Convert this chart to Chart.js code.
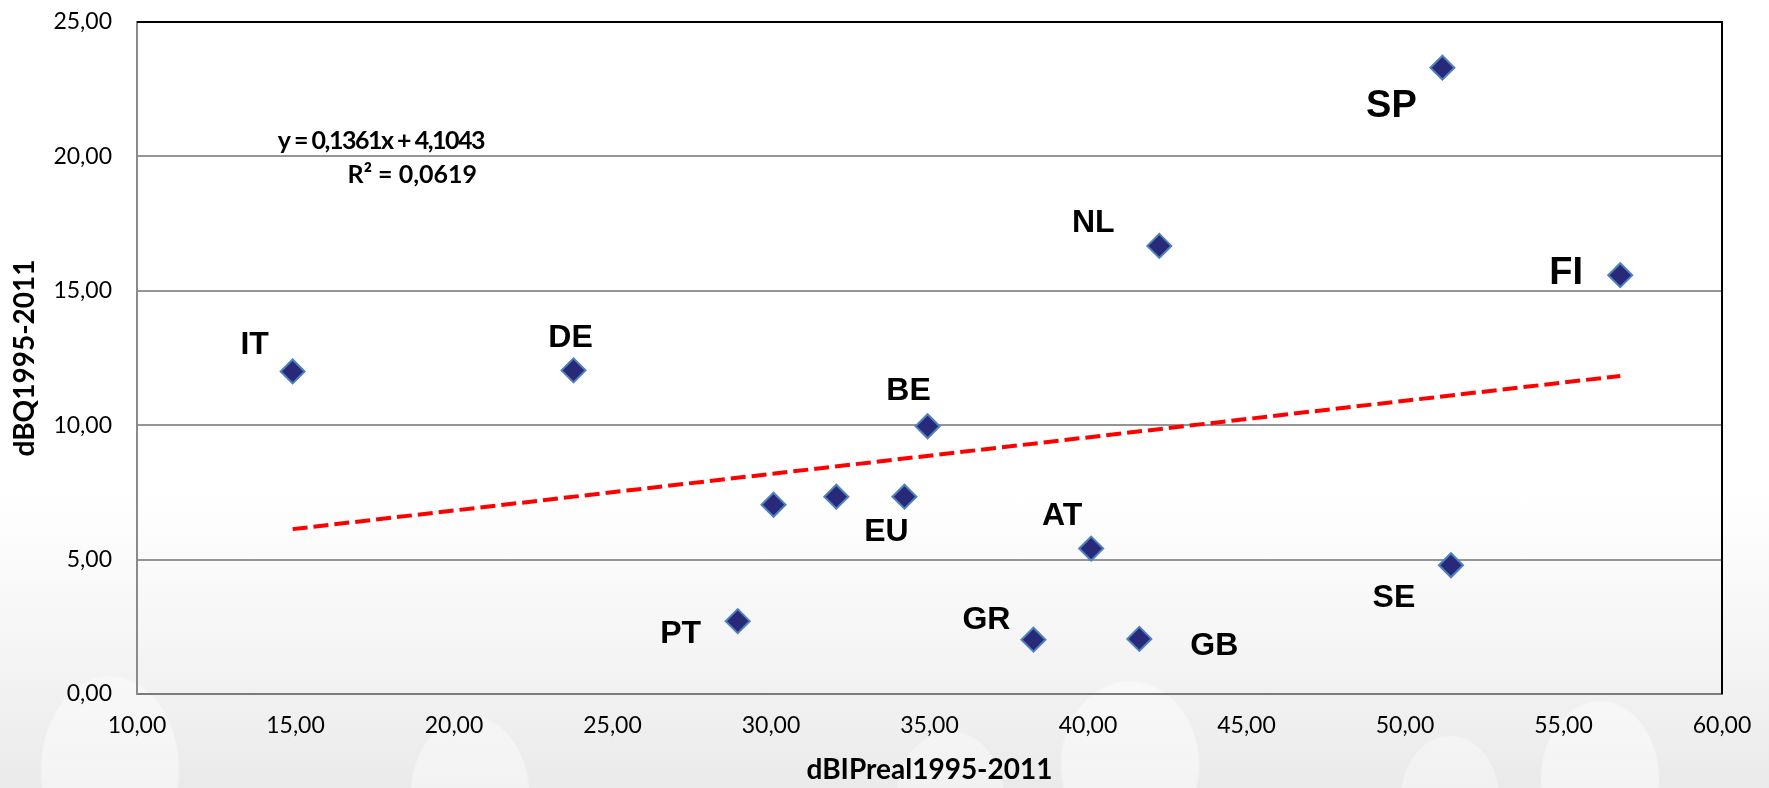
<!DOCTYPE html>
<html>
<head>
<meta charset="utf-8">
<title>dBQ vs dBIPreal 1995-2011</title>
<script src="https://cdn.jsdelivr.net/npm/chart.js@4.4.1/dist/chart.umd.min.js"></script>
<style>
    html, body { margin: 0; padding: 0; }
    body {
        width: 1769px;
        height: 788px;
        overflow: hidden;
        background:
            radial-gradient(ellipse 70px 95px at 110px 770px, rgba(255,255,255,0.45) 97%, rgba(255,255,255,0) 100%),
            radial-gradient(ellipse 60px 80px at 470px 795px, rgba(255,255,255,0.4) 97%, rgba(255,255,255,0) 100%),
            radial-gradient(ellipse 70px 85px at 1130px 765px, rgba(255,255,255,0.45) 97%, rgba(255,255,255,0) 100%),
            radial-gradient(ellipse 55px 70px at 950px 800px, rgba(255,255,255,0.35) 97%, rgba(255,255,255,0) 100%),
            radial-gradient(ellipse 50px 65px at 1450px 800px, rgba(255,255,255,0.35) 97%, rgba(255,255,255,0) 100%),
            radial-gradient(ellipse 60px 80px at 1600px 780px, rgba(255,255,255,0.45) 97%, rgba(255,255,255,0) 100%),
            linear-gradient(to bottom, #ffffff 0%, #ffffff 62%, #f5f5f5 82%, #eaeaea 100%);
    }
    #wrap { position: relative; width: 1769px; height: 788px; }
</style>
</head>
<body>
<div id="wrap"><canvas id="scatterChart"></canvas></div>
<script>
        // data
        const countries = ['IT', 'DE', '', '', 'EU', 'BE', 'PT', 'GR', 'GB', 'AT', 'SE', 'NL', 'SP', 'FI'];
        const dBIPreal = [14.91, 23.77, 30.08, 32.06, 34.21, 34.94, 28.95, 38.28, 41.62, 40.10, 51.45, 42.25, 51.18, 56.79];
        const dBQ = [12.00, 12.04, 7.04, 7.34, 7.34, 9.96, 2.71, 2.02, 2.05, 5.41, 4.79, 16.67, 23.30, 15.58];
        const xTicks = [10, 15, 20, 25, 30, 35, 40, 45, 50, 55, 60];
        const yTicks = [0, 5, 10, 15, 20, 25];
        const trendSlope = 0.1361;
        const trendIntercept = 4.1043;
        const trendText = ['y = 0,1361x + 4,1043', 'R² = 0,0619'];

        // label placement (pixel offset from the marker) and size
        const labelOffsets = [[-38, -26], [-3, -32], [0, 0], [0, 0], [-18, 35], [-19, -35], [-57, 13],
                              [-47, -20], [75, 7], [-29, -32], [-57, 33], [-66, -23], [-51, 39], [-54, -2]];
        const labelSizes = [32, 32, 32, 32, 32, 32, 32, 32, 32, 32, 32, 32, 38, 38];

        const fmt = v => v.toFixed(2).replace('.', ',');

        const points = dBIPreal.map((x, i) => ({ x: x, y: dBQ[i] }));
        const xMin = Math.min(...dBIPreal);
        const xMax = Math.max(...dBIPreal);
        const trendPoints = [
            { x: xMin, y: trendSlope * xMin + trendIntercept },
            { x: xMax, y: trendSlope * xMax + trendIntercept }
        ];

        // frame (top + right black lines), point labels and the trendline equation
        const decorations = {
            id: 'decorations',
            beforeDatasetsDraw(chart) {
                const { ctx, chartArea: a } = chart;
                ctx.save();
                ctx.strokeStyle = '#000000';
                ctx.lineWidth = 2;
                ctx.beginPath();
                ctx.moveTo(a.left, a.top);
                ctx.lineTo(a.right, a.top);
                ctx.lineTo(a.right, a.bottom);
                ctx.stroke();
                ctx.restore();
            },
            afterDatasetsDraw(chart) {
                const { ctx, chartArea: a } = chart;
                const meta = chart.getDatasetMeta(0);
                ctx.save();
                ctx.fillStyle = '#000000';
                ctx.textAlign = 'center';
                ctx.textBaseline = 'middle';
                meta.data.forEach((pt, i) => {
                    if (!countries[i]) return;
                    ctx.font = 'bold ' + labelSizes[i] + 'px "Liberation Sans", Arial, sans-serif';
                    ctx.fillText(countries[i], pt.x + labelOffsets[i][0], pt.y + labelOffsets[i][1]);
                });

                ctx.font = 'bold 25px Lato, "Open Sans", sans-serif';
                ctx.textAlign = 'right';
                ctx.letterSpacing = '-1.5px';
                ctx.fillText(trendText[0], a.left + 347, a.top + 119);
                ctx.letterSpacing = '0px';
                ctx.fillText(trendText[1], a.left + 340, a.top + 153);
                ctx.restore();
            }
        };

        const ctx = document.getElementById('scatterChart').getContext('2d');
        new Chart(ctx, {
            type: 'scatter',
            data: {
                datasets: [
                    {
                        label: 'Länder',
                        data: points,
                        pointStyle: 'rectRot',
                        pointRadius: 12,
                        pointHoverRadius: 12,
                        backgroundColor: '#29297A',
                        borderColor: '#4F81BD',
                        borderWidth: 2,
                        order: 1
                    },
                    {
                        label: 'Trend',
                        data: trendPoints,
                        showLine: true,
                        pointRadius: 0,
                        borderColor: '#FF0000',
                        borderWidth: 4,
                        borderDash: [15, 6],
                        fill: false,
                        order: 2
                    }
                ]
            },
            options: {
                responsive: true,
                maintainAspectRatio: false,
                animation: false,
                layout: { padding: { top: 22, right: 47, left: 0, bottom: 0 } },
                plugins: {
                    legend: { display: false },
                    tooltip: { enabled: false }
                },
                scales: {
                    x: {
                        type: 'linear',
                        min: xTicks[0],
                        max: xTicks[xTicks.length - 1],
                        afterBuildTicks: s => { s.ticks = xTicks.map(v => ({ value: v })); },
                        afterFit: s => { s.height = 94; s.paddingLeft = 0; s.paddingRight = 0; },
                        grid: { display: false, drawTicks: false },
                        border: { display: true, color: '#7a7a7a', width: 2 },
                        ticks: {
                            padding: 18,
                            color: '#000000',
                            font: { family: 'Lato', size: 23 },
                            callback: v => fmt(v)
                        },
                        title: {
                            display: true,
                            text: 'dBIPreal1995-2011',
                            color: '#000000',
                            font: { family: 'Lato', size: 28, weight: 'bold' },
                            padding: { top: 0, bottom: 1 }
                        }
                    },
                    y: {
                        type: 'linear',
                        min: yTicks[0],
                        max: yTicks[yTicks.length - 1],
                        afterBuildTicks: s => { s.ticks = yTicks.map(v => ({ value: v })); },
                        afterFit: s => { s.width = 137; s.paddingTop = 0; s.paddingBottom = 0; },
                        grid: { color: '#959595', lineWidth: 2, drawTicks: false },
                        border: { display: true, color: '#8a8a8a', width: 2 },
                        ticks: {
                            padding: 25,
                            color: '#000000',
                            font: { family: 'Lato', size: 23 },
                            callback: v => fmt(v)
                        },
                        title: {
                            display: true,
                            text: 'dBQ1995-2011',
                            color: '#000000',
                            font: { family: 'Lato', size: 28, weight: 'bold' },
                            padding: { top: 8, bottom: 0 }
                        }
                    }
                }
            },
            plugins: [decorations]
        });
</script>
</body>
</html>
